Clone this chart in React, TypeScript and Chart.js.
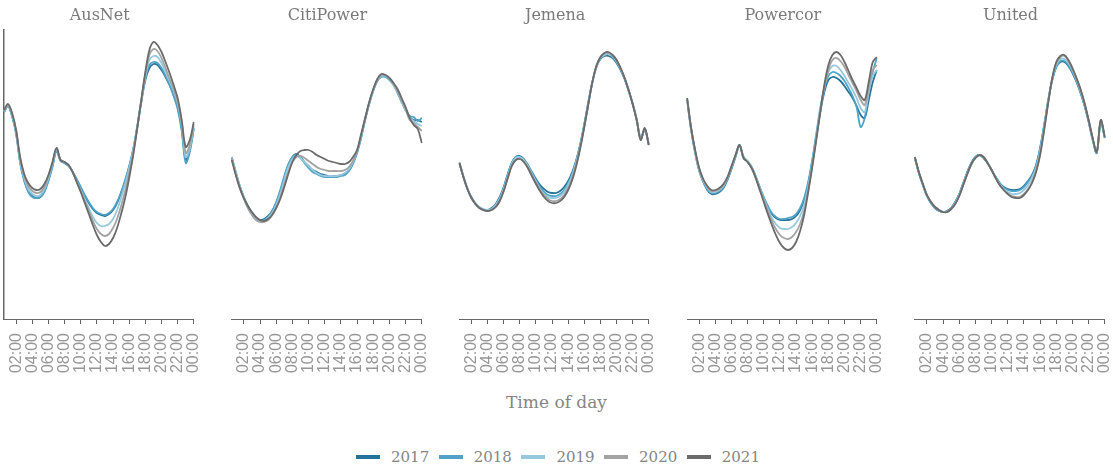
import React, { useEffect, useRef } from "react";
import { Chart, registerables } from "chart.js";

Chart.register(...registerables);

// Half-hourly time of day (category labels)
const TIMES = [
  "00:30","01:00","01:30","02:00","02:30","03:00","03:30","04:00","04:30","05:00","05:30","06:00",
  "06:30","07:00","07:30","08:00","08:30","09:00","09:30","10:00","10:30","11:00","11:30","12:00",
  "12:30","13:00","13:30","14:00","14:30","15:00","15:30","16:00","16:30","17:00","17:30","18:00",
  "18:30","19:00","19:30","20:00","20:30","21:00","21:30","22:00","22:30","23:00","23:30","00:00",
];
const TICK_LABELS = ["02:00","04:00","06:00","08:00","10:00","12:00","14:00","16:00","18:00","20:00","22:00","00:00"];
const YEARS = ["2017", "2018", "2019", "2020", "2021"];
const REGIONS = ["AusNet", "CitiPower", "Jemena", "Powercor", "United"];

// Normalised demand (index units)
const AUSNET_2017 = [207,213,203,186,157,139,128,123,121,122,128,139,153,169,159,156,153,147,139,131,123,116,110,106,104,103,105,109,116,126,138,152,169,192,217,239,251,255,254,249,242,234,224,212,191,159,169,191];
const AUSNET_2018 = [207,213,203,185,156,138,127,122,121,122,127,138,152,168,158,156,153,147,140,132,124,117,111,107,105,104,106,110,117,127,139,153,170,193,218,241,254,257,256,251,243,234,223,210,188,156,167,190];
const AUSNET_2019 = [208,214,204,187,158,141,130,125,123,124,130,141,155,170,159,157,154,147,138,129,120,111,102,96,93,93,95,100,109,121,135,150,169,192,218,242,259,263,262,256,247,238,228,216,195,162,171,193];
const AUSNET_2020 = [208,214,205,188,160,143,133,128,126,127,132,143,156,171,159,157,154,147,137,128,118,108,98,90,85,83,85,91,100,113,128,146,166,191,219,245,264,270,268,261,251,240,230,218,197,166,174,195];
const AUSNET_2021 = [209,215,206,189,162,145,136,131,129,130,135,144,157,171,159,157,154,147,137,127,116,105,94,84,77,73,75,81,91,105,121,141,164,191,219,247,269,277,274,267,257,246,234,221,199,172,179,197];

const CITIPOWER_2017 = [162,147,133,122,113,106,101,99,100,103,108,116,127,141,154,162,165,162,157,153,149,147,145,144,143,143,143,144,145,149,156,167,182,200,216,229,239,243,243,240,235,227,218,209,202,199,199,197];
const CITIPOWER_2018 = [161,146,132,121,112,105,100,98,99,102,108,117,129,143,155,162,164,161,156,151,147,145,143,142,142,142,142,143,144,148,155,166,181,199,215,228,238,242,242,239,234,226,217,209,203,202,198,201];
const CITIPOWER_2019 = [162,147,133,122,112,105,100,97,98,101,106,114,125,139,152,160,163,161,157,153,149,146,144,143,143,143,143,144,146,150,157,168,183,200,216,229,239,243,243,240,234,227,218,209,201,198,195,193];
const CITIPOWER_2020 = [161,145,131,120,111,104,99,97,97,99,104,111,121,134,147,157,162,163,161,158,155,152,150,149,148,148,148,148,149,152,158,168,183,200,216,229,239,244,244,241,235,228,219,210,199,196,192,188];
const CITIPOWER_2021 = [159,144,131,121,113,107,102,99,98,100,104,111,120,132,145,157,164,168,169,169,167,164,162,160,158,157,156,155,155,157,162,169,185,201,217,230,240,245,244,241,236,230,221,212,201,194,190,176];

const JEMENA_2017 = [156,142,130,121,115,111,109,109,111,115,122,132,145,156,162,163,160,154,147,140,134,130,127,126,126,128,132,138,147,159,175,195,217,237,252,260,263,263,261,256,249,240,228,215,199,181,189,174];
const JEMENA_2018 = [156,142,130,121,115,111,109,108,110,114,121,131,144,156,162,162,159,153,146,139,132,127,124,123,123,125,129,136,145,158,174,194,216,237,253,261,264,265,262,257,250,240,228,215,199,180,190,174];
const JEMENA_2019 = [157,143,131,122,116,112,110,109,110,114,120,130,143,155,161,162,159,153,145,137,130,125,122,121,121,123,127,134,144,157,173,193,215,236,252,261,264,265,263,258,250,241,229,216,200,181,190,175];
const JEMENA_2020 = [156,142,130,121,115,111,109,108,109,112,118,128,141,153,159,160,157,151,143,136,129,124,120,118,118,120,124,131,141,155,172,193,215,237,253,262,266,266,264,259,251,241,229,215,199,180,190,174];
const JEMENA_2021 = [156,142,130,121,115,111,109,108,109,112,118,128,141,153,159,160,157,151,143,135,128,122,118,116,116,118,122,129,139,153,171,192,215,237,253,262,266,267,264,259,251,241,229,215,199,179,191,174];

const POWERCOR_2017 = [219,189,166,148,137,129,125,125,127,131,139,150,162,173,161,157,151,142,131,121,112,105,101,99,99,99,100,103,109,119,135,157,182,207,227,239,242,241,238,233,227,221,213,204,201,219,237,249];
const POWERCOR_2018 = [220,190,167,149,138,130,126,126,128,132,140,151,163,174,162,158,152,143,132,122,113,106,102,100,100,101,102,105,111,121,137,159,185,211,231,243,247,246,243,238,231,223,212,192,201,227,247,261];
const POWERCOR_2019 = [220,190,167,149,138,131,127,127,129,133,141,152,163,174,162,158,152,142,131,120,110,101,95,91,90,90,92,96,103,114,132,155,182,209,231,247,253,253,249,243,236,229,221,211,207,227,243,249];
const POWERCOR_2020 = [221,191,168,150,139,132,128,128,130,134,141,152,164,174,161,157,151,141,130,119,108,98,90,84,81,80,82,87,95,108,128,153,180,208,232,249,259,261,258,252,244,236,228,219,214,231,249,254];
const POWERCOR_2021 = [221,191,169,151,140,133,129,129,131,135,142,153,164,174,161,157,151,141,129,117,105,94,84,76,71,69,71,77,88,104,127,152,179,207,234,254,264,267,264,257,248,239,231,223,219,237,257,262];

const UNITED_2017 = [161,146,134,123,116,111,108,107,108,111,117,125,136,147,156,162,164,161,156,149,142,136,132,130,129,129,130,133,138,144,154,171,194,219,239,252,257,257,253,246,237,226,213,197,179,166,197,181];
const UNITED_2018 = [161,146,134,123,116,111,108,107,108,111,117,125,136,147,156,162,164,161,156,149,142,136,131,129,128,128,129,132,137,143,153,170,193,218,239,252,258,258,254,247,238,227,214,198,180,166,197,181];
const UNITED_2019 = [162,147,135,124,117,112,109,107,107,110,116,124,135,146,155,161,164,162,156,149,141,135,130,127,125,125,126,129,134,141,151,168,192,218,240,254,260,260,256,249,239,228,215,199,180,167,198,182];
const UNITED_2020 = [162,147,135,124,117,112,109,107,107,110,115,123,134,145,155,161,164,162,156,149,141,134,129,125,123,122,122,125,130,137,148,165,190,217,241,256,262,263,258,250,240,229,215,199,181,167,199,182];
const UNITED_2021 = [162,147,135,124,117,112,109,107,107,110,115,123,134,145,155,161,164,162,156,149,141,134,129,125,122,121,121,124,129,136,147,164,189,216,241,257,263,264,259,251,241,230,216,199,181,167,199,182];

const PANEL_SERIES = [
  [AUSNET_2017, AUSNET_2018, AUSNET_2019, AUSNET_2020, AUSNET_2021],
  [CITIPOWER_2017, CITIPOWER_2018, CITIPOWER_2019, CITIPOWER_2020, CITIPOWER_2021],
  [JEMENA_2017, JEMENA_2018, JEMENA_2019, JEMENA_2020, JEMENA_2021],
  [POWERCOR_2017, POWERCOR_2018, POWERCOR_2019, POWERCOR_2020, POWERCOR_2021],
  [UNITED_2017, UNITED_2018, UNITED_2019, UNITED_2020, UNITED_2021],
];

const COLORS = ["#24739a", "#4fa3c7", "#98c8de", "#a3a3a3", "#6b6b6b"];

const PANEL_LEFT0 = 4;
const PANEL_STEP = 227.7;
const PANEL_W = 191.5;
const PAD = 26;
const CANVAS_H = 390;
const AREA_BOTTOM = 319;

function Panel({ index }: { index: number }) {
  const ref = useRef<HTMLCanvasElement | null>(null);
  const canvasLeft = Math.round(PANEL_LEFT0 + PANEL_STEP * index - PAD);
  const areaLeft = PANEL_LEFT0 + PANEL_STEP * index;
  const w = Math.round(PANEL_W + 2 * PAD);
  const padLeft = areaLeft - canvasLeft;
  const padRight = w - padLeft - PANEL_W;
  useEffect(() => {
    if (!ref.current) return;
    const chart = new Chart(ref.current, {
      type: "line",
      data: {
        labels: TIMES,
        datasets: PANEL_SERIES[index].map((d, j) => ({
          label: YEARS[j],
          data: d,
          borderColor: COLORS[j],
          backgroundColor: COLORS[j],
          borderWidth: 1.8,
          pointRadius: 0,
          tension: 0.35,
          fill: false,
          order: 4 - j,
        })),
      },
      options: {
        animation: false,
        responsive: false,
        maintainAspectRatio: false,
        layout: { padding: { left: padLeft, right: padRight, top: 0, bottom: 0 } },
        plugins: {
          legend: { display: false },
          tooltip: { enabled: false },
          title: {
            display: true,
            text: REGIONS[index],
            color: "#7a7a7a",
            font: { family: "DejaVu Serif", size: 16, weight: "normal" },
            padding: { top: 6, bottom: 4.8 },
          },
        },
        scales: {
          x: {
            type: "category",
            offset: false,
            grid: {
              display: true,
              drawOnChartArea: false,
              drawTicks: true,
              tickLength: 5,
              color: "#666",
            },
            border: { display: true, color: "#666", width: 1 },
            ticks: {
              autoSkip: false,
              minRotation: 90,
              maxRotation: 90,
              padding: 9,
              color: "#969696",
              font: { family: "Liberation Sans", size: 16 },
            },
            afterBuildTicks: (s: any) => {
              s.ticks = s.ticks.filter((t: any) => t.value > 0 && TICK_LABELS.includes(TIMES[t.value]));
            },
            afterFit: (s: any) => {
              s.height = CANVAS_H - AREA_BOTTOM;
            },
          },
          y: {
            display: index === 0,
            min: 0,
            max: 289,
            grid: { display: false, drawTicks: false },
            border: { display: true, color: "#666", width: 1.5 },
            ticks: { display: false },
            afterFit: (s: any) => {
              s.width = 0;
            },
          },
        },
      },
    } as any);
    return () => chart.destroy();
  }, [index]);
  return (
    <canvas
      ref={ref}
      width={w}
      height={CANVAS_H}
      style={{ position: "absolute", left: canvasLeft, top: 0, width: w, height: CANVAS_H }}
    />
  );
}

export default function App() {
  return (
    <div style={{ position: "absolute", left: 0, top: 0, width: 1113, height: 466, background: "#fff", overflow: "hidden" }}>
      {REGIONS.map((_, i) => (
        <Panel key={i} index={i} />
      ))}
      <div
        style={{
          position: "absolute",
          left: 0,
          width: 1113,
          top: 390,
          textAlign: "center",
          fontFamily: "DejaVu Serif",
          fontSize: 17,
          color: "#858585",
          lineHeight: "24px",
        }}
      >
        Time of day
      </div>
      <div
        style={{
          position: "absolute",
          left: 356,
          top: 446,
          height: 22,
          display: "flex",
          alignItems: "center",
          fontFamily: "DejaVu Serif",
          fontSize: 15,
          color: "#858585",
        }}
      >
        {YEARS.map((y, j) => (
          <div key={y} style={{ display: "flex", alignItems: "center", width: 82.7 }}>
            <span style={{ display: "inline-block", width: 24, height: 4, background: COLORS[j], marginRight: 11 }} />
            <span>{y}</span>
          </div>
        ))}
      </div>
    </div>
  );
}
